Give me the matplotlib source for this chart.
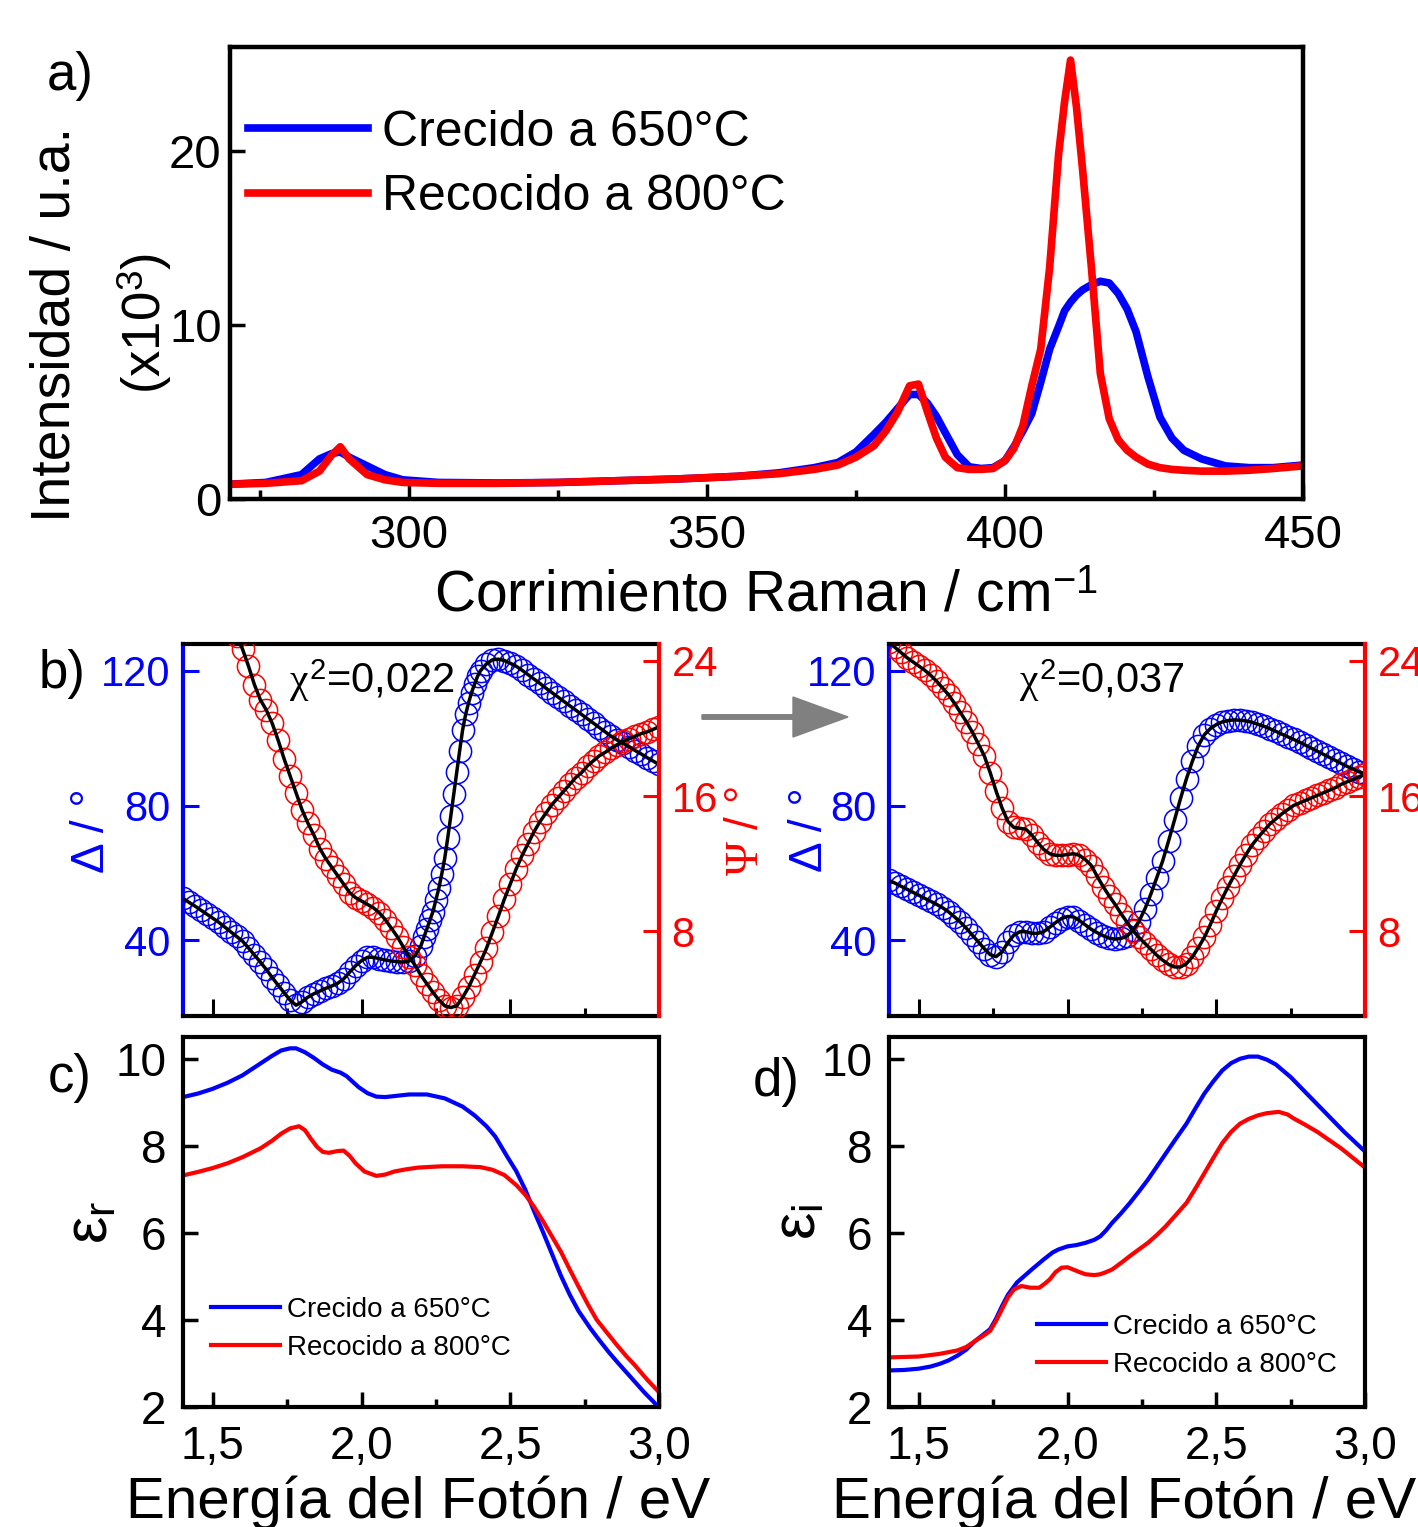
import matplotlib
matplotlib.use("Agg")
import matplotlib.pyplot as plt
import matplotlib.patches as mpatches
import numpy as np

plt.rcParams['font.family'] = ['Liberation Sans', 'DejaVu Sans']
plt.rcParams['mathtext.fontset'] = 'custom'
plt.rcParams['mathtext.rm'] = 'Liberation Sans'
plt.rcParams['mathtext.it'] = 'Liberation Serif'
plt.rcParams['mathtext.bf'] = 'Liberation Serif'

BLUE = '#0000FF'
RED = '#FF0000'
labels = ['Crecido a 650°C', 'Recocido a 800°C']

# a) Raman spectra
raman_shift = [270, 276, 282, 285, 287, 288.5, 290, 293, 296, 299,
               305, 315, 325, 335, 345, 355, 362, 368, 372, 375,
               378, 380, 382, 384, 385.5, 387, 388.5, 390, 392, 394,
               396, 398, 400, 401.5, 403, 404.5, 406, 407.5, 409, 410,
               411, 412, 413, 414.5, 416, 417.5, 419, 420.5, 422, 424,
               426, 428, 430, 433, 437, 441, 445, 450]
raman_650 = [0.85, 0.95, 1.4, 2.3, 2.6, 2.7, 2.4, 1.9, 1.4, 1.1,
             0.95, 0.92, 0.95, 1.05, 1.15, 1.3, 1.5, 1.8, 2.1, 2.7,
             3.7, 4.4, 5.2, 6.0, 6.0, 5.5, 4.75, 3.8, 2.55, 1.85,
             1.75, 1.8, 2.2, 3.0, 3.9, 4.9, 6.7, 8.6, 9.9, 10.8,
             11.3, 11.7, 12.0, 12.3, 12.5, 12.4, 11.8, 10.9, 9.6, 7.0,
             4.7, 3.5, 2.8, 2.3, 1.9, 1.8, 1.8, 1.95]
raman_800 = [0.85, 0.9, 1.05, 1.6, 2.5, 3.0, 2.3, 1.4, 1.1, 0.95,
             0.9, 0.9, 0.95, 1.05, 1.15, 1.3, 1.45, 1.7, 1.95, 2.4,
             3.05, 3.9, 5.0, 6.5, 6.6, 5.0, 3.5, 2.4, 1.8, 1.7,
             1.7, 1.75, 2.2, 2.9, 4.2, 6.5, 8.6, 13.3, 19.8, 22.8,
             25.2, 22.5, 19.0, 13.3, 7.2, 4.6, 3.4, 2.8, 2.4, 2.0,
             1.8, 1.7, 1.65, 1.6, 1.6, 1.65, 1.75, 1.9]

# b) ellipsometry: Delta and Psi (measured, with fit)
energy_b = np.linspace(1.40, 3.00, 81)
delta_650 = [52.5, 51.3, 50.2, 49.0, 47.8, 46.6, 45.4, 44.0, 42.6, 41.2,
             39.8, 37.8, 35.7, 33.6, 31.4, 29.0, 26.7, 24.5, 22.3, 20.8,
             21.8, 23.2, 24.2, 25.0, 25.8, 26.5, 27.3, 28.6, 30.6, 32.5,
             34.0, 35.0, 35.0, 34.6, 34.2, 33.9, 33.7, 33.6, 33.9, 35.5,
             38.5, 43.5, 48.5, 55.5, 64.5, 76.8, 89.8, 102.5, 110.5, 116.0,
             120.0, 122.0, 123.2, 123.4, 123.0, 122.2, 121.3, 120.1, 118.8, 117.5,
             116.2, 114.8, 113.5, 112.2, 110.9, 109.6, 108.3, 107.0, 105.7, 104.4,
             103.1, 101.8, 100.5, 99.4, 98.4, 97.4, 96.3, 95.3, 94.2, 93.2,
             92.2]
# extra readings on the steep rise of Delta (650 C)
steep_x = [2.21, 2.23, 2.25, 2.27, 2.29, 2.31, 2.33, 2.35, 2.37, 2.39]
steep_delta_650 = [41.0, 46.0, 52.0, 59.8, 70.5, 83.3, 96.3, 107.0, 113.5, 118.3]
psi_650 = [26.3, 25.5, 24.7, 23.7, 22.6, 21.7, 21.1, 20.3, 19.3, 18.2,
           17.2, 16.2, 15.2, 14.4, 13.7, 12.9, 12.3, 11.8, 11.3, 10.8,
           10.3, 10.0, 9.8, 9.6, 9.4, 9.1, 8.7, 8.2, 7.7, 7.1,
           6.5, 6.0, 5.4, 4.9, 4.4, 3.95, 3.6, 3.5, 3.6, 4.1,
           4.7, 5.45, 6.2, 7.0, 7.95, 8.9, 9.9, 10.8, 11.7, 12.5,
           13.2, 13.9, 14.5, 15.0, 15.5, 15.9, 16.3, 16.7, 17.1, 17.4,
           17.8, 18.1, 18.4, 18.6, 18.85, 19.05, 19.25, 19.4, 19.55, 19.7,
           19.8, 19.95, 20.1]
delta_800 = [57.8, 57.0, 56.1, 55.2, 54.3, 53.4, 52.5, 51.6, 50.7, 49.7,
             48.5, 47.0, 45.4, 43.6, 41.6, 39.6, 37.6, 35.8, 35.2, 36.6,
             39.4, 41.6, 42.6, 42.6, 42.1, 42.1, 42.6, 43.9, 45.3, 46.5,
             47.1, 47.0, 45.9, 44.6, 43.3, 42.3, 41.4, 40.7, 40.4, 40.6,
             41.3, 43.0, 45.6, 49.3, 53.7, 58.6, 63.6, 69.6, 75.8, 82.1,
             88.0, 93.2, 97.8, 101.0, 102.8, 104.0, 104.8, 105.2, 105.4, 105.3,
             105.1, 104.7, 104.1, 103.5, 102.8, 102.0, 101.2, 100.4, 99.6, 98.8,
             97.9, 97.0, 96.1, 95.2, 94.3, 93.4, 92.5, 91.6, 90.8, 90.0,
             89.4]
psi_800 = [25.1, 24.8, 24.5, 24.2, 23.95, 23.7, 23.45, 23.15, 22.8, 22.4,
           22.0, 21.5, 20.95, 20.4, 19.8, 19.1, 18.4, 17.4, 16.3, 15.3,
           14.5, 14.15, 14.1, 14.05, 13.7, 13.25, 12.85, 12.6, 12.5, 12.5,
           12.55, 12.6, 12.5, 12.25, 11.9, 11.25, 10.65, 10.1, 9.6, 9.05,
           8.55, 8.05, 7.65, 7.3, 6.95, 6.6, 6.3, 6.05, 5.9, 5.9,
           6.1, 6.5, 7.05, 7.65, 8.4, 9.2, 9.95, 10.65, 11.3, 11.95,
           12.55, 13.1, 13.55, 13.95, 14.35, 14.65, 14.95, 15.2, 15.45, 15.6,
           15.75, 15.9, 16.05, 16.2, 16.35, 16.5, 16.7, 16.85, 17.0, 17.15,
           17.3]
chi2 = ['0,022', '0,037']

# c) real part of dielectric function
er_x_650 = [1.40, 1.45, 1.50, 1.55, 1.60, 1.66, 1.70, 1.73, 1.76, 1.78,
            1.81, 1.84, 1.87, 1.90, 1.93, 1.95, 1.99, 2.02, 2.05, 2.08,
            2.12, 2.16, 2.22, 2.28, 2.34, 2.38, 2.42, 2.45, 2.49, 2.52,
            2.55, 2.58, 2.61, 2.64, 2.67, 2.70, 2.73, 2.77, 2.80, 2.83,
            2.86, 2.89, 2.92, 2.95, 2.98, 3.00]
er_650 = [9.12, 9.20, 9.31, 9.45, 9.62, 9.89, 10.07, 10.19, 10.24, 10.24,
          10.15, 10.02, 9.87, 9.75, 9.68, 9.60, 9.35, 9.21, 9.13, 9.12,
          9.15, 9.18, 9.18, 9.09, 8.90, 8.70, 8.45, 8.21, 7.75, 7.42,
          7.00, 6.50, 6.02, 5.52, 5.02, 4.58, 4.20, 3.80, 3.53, 3.27,
          3.03, 2.80, 2.57, 2.34, 2.13, 1.98]
er_x_800 = [1.40, 1.45, 1.50, 1.55, 1.60, 1.66, 1.70, 1.73, 1.76, 1.79,
            1.81, 1.83, 1.85, 1.87, 1.89, 1.92, 1.94, 1.96, 1.98, 2.01,
            2.05, 2.08, 2.11, 2.15, 2.19, 2.27, 2.34, 2.40, 2.44, 2.48,
            2.52, 2.55, 2.58, 2.61, 2.64, 2.67, 2.70, 2.73, 2.76, 2.79,
            2.82, 2.86, 2.89, 2.92, 2.96, 3.00]
er_800 = [7.32, 7.40, 7.49, 7.60, 7.74, 7.94, 8.12, 8.28, 8.40, 8.45,
          8.36, 8.16, 7.98, 7.86, 7.84, 7.88, 7.89, 7.77, 7.60, 7.41,
          7.31, 7.34, 7.41, 7.46, 7.50, 7.53, 7.53, 7.51, 7.45, 7.33,
          7.10, 6.88, 6.60, 6.27, 5.92, 5.57, 5.16, 4.76, 4.37, 4.01,
          3.75, 3.41, 3.17, 2.95, 2.63, 2.34]

# d) imaginary part of dielectric function
ei_x_650 = [1.40, 1.45, 1.50, 1.54, 1.57, 1.60, 1.63, 1.66, 1.69, 1.72,
            1.74, 1.76, 1.78, 1.80, 1.83, 1.86, 1.88, 1.92, 1.95, 1.97,
            2.00, 2.03, 2.06, 2.09, 2.11, 2.13, 2.15, 2.18, 2.21, 2.24,
            2.27, 2.30, 2.33, 2.36, 2.40, 2.43, 2.46, 2.49, 2.52, 2.55,
            2.58, 2.61, 2.64, 2.67, 2.70, 2.75, 2.81, 2.87, 2.93, 3.00]
ei_650 = [2.84, 2.85, 2.88, 2.93, 2.99, 3.07, 3.18, 3.32, 3.52, 3.68,
          3.79, 4.03, 4.32, 4.58, 4.86, 5.04, 5.16, 5.39, 5.55, 5.62,
          5.69, 5.72, 5.77, 5.84, 5.92, 6.06, 6.23, 6.45, 6.69, 6.95,
          7.22, 7.52, 7.82, 8.12, 8.51, 8.86, 9.20, 9.48, 9.73, 9.90,
          10.00, 10.05, 10.05, 9.98, 9.87, 9.58, 9.16, 8.74, 8.32, 7.87]
ei_x_800 = [1.40, 1.45, 1.50, 1.57, 1.63, 1.66, 1.69, 1.72, 1.74, 1.76,
            1.78, 1.80, 1.82, 1.845, 1.875, 1.905, 1.925, 1.94, 1.96, 1.98,
            2.00, 2.015, 2.04, 2.06, 2.09, 2.11, 2.13, 2.15, 2.18, 2.21,
            2.24, 2.27, 2.30, 2.33, 2.36, 2.40, 2.43, 2.46, 2.49, 2.52,
            2.55, 2.58, 2.61, 2.64, 2.67, 2.71, 2.74, 2.76, 2.80, 2.84,
            2.88, 2.92, 2.96, 3.00]
ei_800 = [3.14, 3.15, 3.16, 3.22, 3.30, 3.38, 3.52, 3.65, 3.75, 3.98,
          4.25, 4.52, 4.70, 4.78, 4.74, 4.74, 4.84, 4.93, 5.10, 5.20,
          5.21, 5.17, 5.10, 5.05, 5.03, 5.05, 5.10, 5.16, 5.31, 5.47,
          5.62, 5.77, 5.95, 6.15, 6.38, 6.69, 7.02, 7.37, 7.72, 8.06,
          8.32, 8.51, 8.62, 8.70, 8.75, 8.78, 8.72, 8.63, 8.48, 8.32,
          8.13, 7.94, 7.72, 7.50]

W, H = 1418, 1527
fig = plt.figure(figsize=(W / 100, H / 100), dpi=100)


def rect(x0, y0, x1, y1):
    return [x0 / W, 1 - y1 / H, (x1 - x0) / W, (y1 - y0) / H]


def fx(x):
    return x / W


def fy(y):
    return 1 - y / H


ax_a = fig.add_axes(rect(230, 47, 1303, 499))
ax_b1 = fig.add_axes(rect(183, 644, 659, 1016))
ax_b2 = fig.add_axes(rect(889, 644, 1365, 1016))
ax_c = fig.add_axes(rect(183, 1037, 659, 1407))
ax_d = fig.add_axes(rect(889, 1037, 1365, 1407))

# ---- a)
ax_a.plot(raman_shift, raman_650, color=BLUE, lw=5.5, label=labels[0])
ax_a.plot(raman_shift, raman_800, color=RED, lw=5.5, label=labels[1])
ax_a.set_xlim(270, 450)
ax_a.set_ylim(0, 25.95)
ax_a.set_xticks([300, 350, 400, 450])
ax_a.set_xticks([275, 325, 375, 425], minor=True)
ax_a.set_yticks([0, 10, 20])
ax_a.tick_params(which='both', direction='in', top=False, right=False,
                 width=2.5, labelsize=34)
ax_a.tick_params(which='major', length=11)
ax_a.tick_params(which='minor', length=6.5)
ax_a.tick_params(axis='x', pad=11)
ax_a.tick_params(axis='y', pad=6)
for s in ax_a.spines.values():
    s.set_linewidth(3.2)
ax_a.legend(loc='center left', bbox_to_anchor=(0.0168, 0.739), frameon=False,
            fontsize=36, handlelength=2.4, handletextpad=0.28,
            labelspacing=0.37, borderpad=0, borderaxespad=0)

# ---- b)
d650_x = np.concatenate([energy_b, steep_x])
d650_y = np.concatenate([delta_650, steep_delta_650])
order = np.argsort(d650_x)
d650_x, d650_y = d650_x[order], d650_y[order]

for ax, x_d, d, p, chi, cx in [(ax_b1, d650_x, d650_y, psi_650, chi2[0], 372),
                               (ax_b2, energy_b, delta_800, psi_800, chi2[1], 1102)]:
    ax2 = ax.twinx()
    x_p = energy_b[-len(p):]
    ax.plot(x_d, d, 'o', mfc='none', mec=BLUE, ms=16, mew=1.1)
    ax2.plot(x_p, p, 'o', mfc='none', mec=RED, ms=16, mew=1.1)
    ax2.plot(x_d, d, color='k', lw=2.5, transform=ax.transData)
    ax2.plot(x_p, p, color='k', lw=2.5)
    ax.set_xlim(1.4, 3.0)
    ax.set_ylim(17.6, 127.9)
    ax2.set_ylim(3.0, 25.0)
    ax.set_yticks([40, 80, 120])
    ax2.set_yticks([8, 16, 24])
    ax.set_xticks([1.5, 2.0, 2.5, 3.0])
    ax.set_xticks([1.75, 2.25, 2.75], minor=True)
    ax.tick_params(axis='x', which='both', direction='in', labelbottom=False,
                   width=2.2, top=False)
    ax.tick_params(axis='x', which='major', length=12)
    ax.tick_params(axis='x', which='minor', length=6)
    ax.tick_params(axis='y', colors=BLUE, direction='in', length=11.5,
                   width=2.2, labelsize=30, pad=9, right=False)
    ax2.tick_params(axis='y', colors=RED, direction='in', length=11.5,
                    width=2.2, labelsize=30, pad=9)
    for s in ['top', 'bottom']:
        ax.spines[s].set_linewidth(3)
        ax2.spines[s].set_visible(False)
    ax.spines['right'].set_visible(False)
    ax2.spines['left'].set_visible(False)
    ax.spines['left'].set_color(BLUE)
    ax.spines['left'].set_linewidth(3)
    ax2.spines['right'].set_color(RED)
    ax2.spines['right'].set_linewidth(3)
    fig.text(fx(cx), fy(681), r'$\chi^{2}$=' + chi, ha='center',
             va='center', fontsize=30)

# ---- c) and d)
for ax, x1, y1, x2, y2, leg in [(ax_c, er_x_650, er_650, er_x_800, er_800,
                                 (0.0588, 0.211)),
                                (ax_d, ei_x_650, ei_650, ei_x_800, ei_800,
                                 (0.311, 0.165))]:
    ax.plot(x1, y1, color=BLUE, lw=3, label=labels[0])
    ax.plot(x2, y2, color=RED, lw=3, label=labels[1])
    ax.set_xlim(1.4, 3.0)
    ax.set_ylim(2, 10.5)
    ax.set_yticks([2, 4, 6, 8, 10])
    ax.set_xticks([1.5, 2.0, 2.5, 3.0])
    ax.set_xticklabels(['1,5', '2,0', '2,5', '3,0'])
    ax.set_xticks([1.75, 2.25, 2.75], minor=True)
    ax.tick_params(which='both', direction='in', top=False, right=False,
                   width=2.5, labelsize=33)
    ax.tick_params(which='major', length=11)
    ax.tick_params(which='minor', length=5.5)
    ax.tick_params(axis='y', pad=12)
    ax.tick_params(axis='x', pad=13)
    for s in ax.spines.values():
        s.set_linewidth(3)
    ax.legend(loc='center left', bbox_to_anchor=leg, frameon=False,
              fontsize=20, handlelength=2.5, handletextpad=0.25,
              labelspacing=0.42, borderpad=0, borderaxespad=0)

# ---- labels
fig.text(fx(70), fy(76), 'a)', ha='center', va='center', fontsize=38)
fig.text(fx(62), fy(674), 'b)', ha='center', va='center', fontsize=38)
fig.text(fx(70), fy(1078), 'c)', ha='center', va='center', fontsize=38)
fig.text(fx(776), fy(1082), 'd)', ha='center', va='center', fontsize=38)

fig.text(fx(56), fy(324), 'Intensidad / u.a.', rotation=90, ha='center',
         va='center', fontsize=40)
fig.text(fx(145), fy(323), '(x10$^{3}$)', rotation=90, ha='center',
         va='center', fontsize=38)
fig.text(fx(766), fy(612), 'Corrimiento Raman / cm$^{-1}$', ha='center',
         va='baseline', fontsize=41)

fig.text(fx(92), fy(831), 'Δ / °', color=BLUE, rotation=90, ha='center',
         va='center', fontsize=33)
fig.text(fx(810), fy(830), 'Δ / °', color=BLUE, rotation=90, ha='center',
         va='center', fontsize=33)
fig.text(fx(746), fy(831), r'$\mathbf{\Psi}$ / °', color=RED, rotation=90,
         ha='center', va='center', fontsize=33)

fig.text(fx(92), fy(1222), 'ε$_\\mathrm{r}$', rotation=90, ha='center',
         va='center', fontsize=44)
fig.text(fx(800), fy(1222), 'ε$_\\mathrm{i}$', rotation=90, ha='center',
         va='center', fontsize=44)

fig.text(fx(126), fy(1518), 'Energía del Fotón / eV', ha='left',
         va='baseline', fontsize=42)
fig.text(fx(832), fy(1518), 'Energía del Fotón / eV', ha='left',
         va='baseline', fontsize=42)

# grey arrow between the two b) panels
arrow = mpatches.FancyArrow(7.02, (H - 717) / 100, 1.46, 0, width=0.045,
                            head_width=0.40, head_length=0.55,
                            length_includes_head=True, color='#808080',
                            transform=fig.dpi_scale_trans)
fig.patches.append(arrow)

fig.savefig('out.png', dpi=100)
